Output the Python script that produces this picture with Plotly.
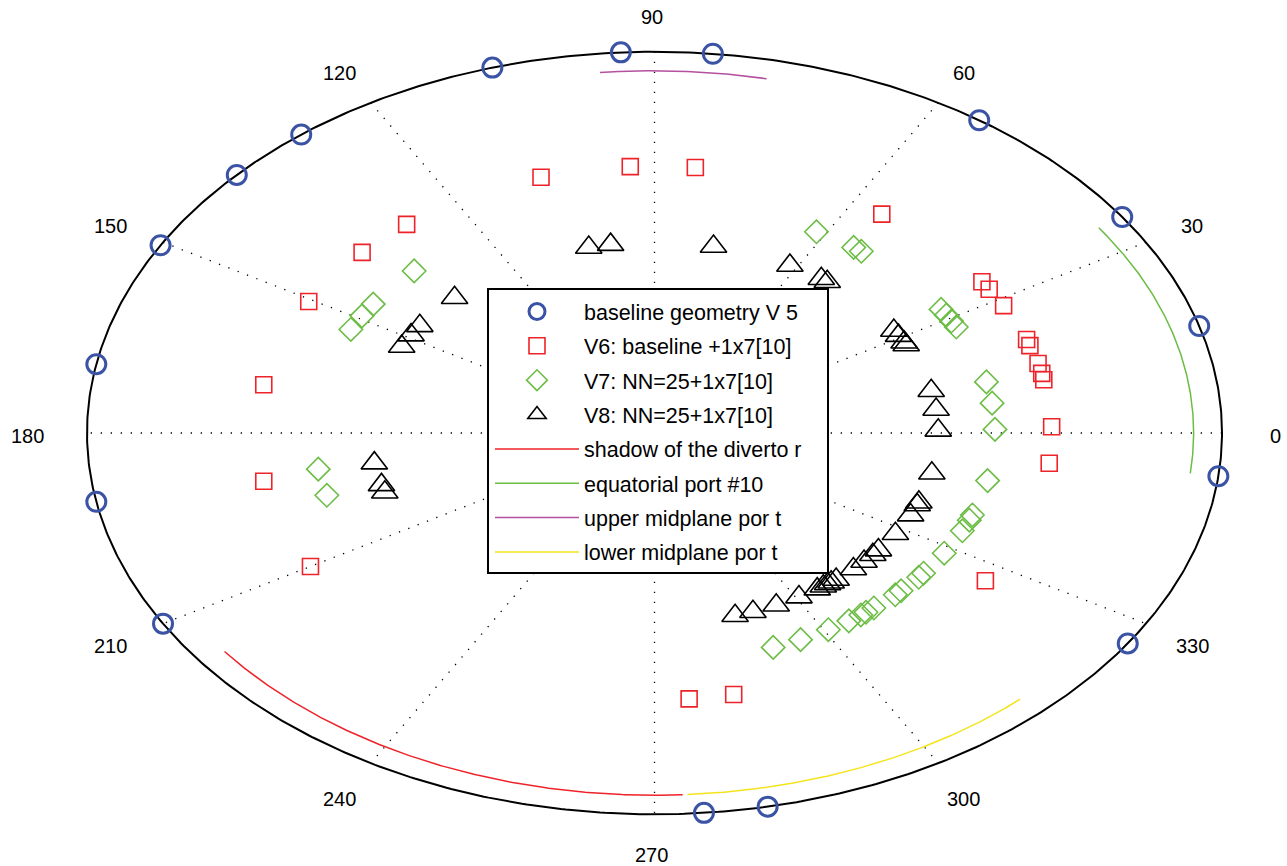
import numpy as np
import plotly.graph_objects as go

# ---------------- data (angles in degrees, radius normalised to the outer ring) -------------
v5_theta = [16.3, 34.5, 55.1, 84.1, 93.4, 106.6, 128.5, 137.4, 150.5, 169.6,
            190.4, 210.0, 275.0, 281.5, 326.5, 353.5]
v5_r = [1.0, 1.0, 1.0, 1.0, 1.0, 1.0, 1.0, 1.0, 1.0, 1.0, 1.0, 1.0, 1.0, 1.0, 1.0, 1.0]

v6_theta = [1.35, 11.5, 12.9, 15.1, 19.1, 20.5, 28.5, 32.6, 34.5, 55.1, 84.1, 93.5,
            106.6, 128.6, 137.4, 150.5, 169.6, 190.4, 210.0, 275.0, 281.5, 326.4, 353.5]
v6_r = [0.70, 0.70, 0.70, 0.70, 0.70, 0.70, 0.70, 0.70, 0.70, 0.70, 0.70, 0.70,
        0.70, 0.70, 0.70, 0.70, 0.70, 0.70, 0.70, 0.70, 0.70, 0.70, 0.70]

v7_theta = [0.9, 7.5, 12.9, 27.6, 29.3, 31.0, 32.7, 52.6, 54.2, 61.6, 134.9, 145.7,
            149.2, 153.1, 189.1, 195.8, 290.4, 295.4, 300.7, 304.8, 307.3, 308.4,
            310.1, 315.0, 316.4, 320.9, 322.2, 328.3, 334.7, 337.6, 339.0, 348.0]
v7_r = [0.60, 0.60, 0.60, 0.60, 0.60, 0.60, 0.60, 0.60, 0.60, 0.60, 0.60, 0.60,
        0.60, 0.60, 0.60, 0.60, 0.60, 0.60, 0.60, 0.60, 0.60, 0.60, 0.60, 0.60,
        0.60, 0.60, 0.60, 0.60, 0.60, 0.60, 0.60, 0.60]

v8_theta = [0.8, 7.1, 12.8, 27.5, 28.4, 30.7, 32.5, 52.5, 54.0, 61.5, 78.0, 98.9,
            103.4, 134.8, 145.8, 149.1, 153.0, 189.1, 195.8, 198.1, 286.5, 290.3,
            295.4, 300.6, 305.0, 306.5, 307.6, 308.5, 309.8, 314.5, 317.6, 320.3,
            322.1, 328.1, 334.5, 337.8, 338.7, 347.8]
v8_r = [0.50, 0.50, 0.50, 0.50, 0.50, 0.50, 0.50, 0.50, 0.50, 0.50, 0.50, 0.50,
        0.50, 0.50, 0.50, 0.50, 0.50, 0.50, 0.50, 0.50, 0.50, 0.50, 0.50, 0.50,
        0.50, 0.50, 0.50, 0.50, 0.50, 0.50, 0.50, 0.50, 0.50, 0.50, 0.50, 0.50,
        0.50, 0.50]

arc_names = ["shadow of the diverto r", "equatorial port #10",
             "upper midplane por t", "lower midplane por t"]
arc_start = [217.1, -6.4, 78.0, 273.5]
arc_end = [273.0, 34.5, 95.8, 312.7]
arc_r = [0.95, 0.95, 0.95, 0.95]

spoke_angles = [0, 30, 60, 90, 120, 150]
label_angles = [0, 30, 60, 90, 120, 150, 180, 210, 240, 270, 300, 330]
label_text = ["0", "30", "60", "90", "120", "150", "180", "210", "240", "270", "300", "330"]

# ---------------- styling ----------------
FONT = "Liberation Sans, Arial, Helvetica, sans-serif"
C_BLUE = "#3A53A4"
C_RED = "#EE2329"
C_GREEN = "#6CBD45"
C_PURPLE = "#B4509E"
C_YELLOW = "#F4E41C"
W, H = 1287, 866


def pol2cart(theta_deg, r):
    t = np.deg2rad(np.asarray(theta_deg, dtype=float))
    r = np.asarray(r, dtype=float)
    return r * np.cos(t), r * np.sin(t)


fig = go.Figure()

# spokes (dotted)
sx, sy = [], []
for a in spoke_angles:
    x, y = pol2cart([a, a + 180], [1.0, 1.0])
    sx += [x[0], x[1], None]
    sy += [y[0], y[1], None]
fig.add_trace(go.Scatter(x=sx, y=sy, mode="lines", showlegend=False, hoverinfo="skip",
                         line=dict(color="black", width=1.3, dash="1.3px,8.7px")))

# outer ring
ring_t = np.linspace(0, 360, 721)
rx, ry = pol2cart(ring_t, np.ones_like(ring_t))
fig.add_trace(go.Scatter(x=rx, y=ry, mode="lines", showlegend=False, hoverinfo="skip",
                         line=dict(color="black", width=2)))

series = [
    ("baseline geometry V 5", v5_theta, v5_r, "circle-open", 19, C_BLUE, 3),
    ("V6: baseline +1x7[10]", v6_theta, v6_r, "square-open", 16, C_RED, 1.6),
    ("V7: NN=25+1x7[10]", v7_theta, v7_r, "diamond-open", 18, C_GREEN, 1.6),
    ("V8: NN=25+1x7[10]", v8_theta, v8_r, "triangle-up-open", 23, "black", 1.6),
]
for i, (name, th, rr, sym, size, col, lw) in enumerate(series):
    x, y = pol2cart(th, rr)
    fig.add_trace(go.Scatter(x=x, y=y, mode="markers", name=name, legendgroup=f"g{i}",
                             marker=dict(symbol=sym, size=size, color=col,
                                         line=dict(color=col, width=lw))))

arc_colors = [C_RED, C_GREEN, C_PURPLE, C_YELLOW]
for i, (name, a0, a1, r0, col) in enumerate(zip(arc_names, arc_start, arc_end, arc_r, arc_colors)):
    t = np.linspace(a0, a1, 200)
    x, y = pol2cart(t, np.full_like(t, r0))
    fig.add_trace(go.Scatter(x=x, y=y, mode="lines", name=name, legendgroup=f"a{i}",
                             line=dict(color=col, width=1.5)))

# angle labels
for a, txt in zip(label_angles, label_text):
    x, y = pol2cart([a], [1.1])
    fig.add_annotation(x=x[0], y=y[0], text=txt, showarrow=False, xshift=-3, yshift=-3,
                       font=dict(size=20, color="black", family=FONT))

# legend frame (white box with black border, drawn above the data, below the legend)
fig.add_shape(type="rect", xref="paper", yref="paper",
              x0=488 / W, x1=828 / W, y0=1 - 573 / H, y1=1 - 289 / H,
              fillcolor="white", line=dict(color="black", width=2), layer="above")

fig.update_layout(
    width=W, height=H,
    margin=dict(l=0, r=0, t=0, b=0),
    paper_bgcolor="white", plot_bgcolor="white",
    xaxis=dict(range=[-1.1533, 1.1145], visible=False, fixedrange=True),
    yaxis=dict(range=[-1.1356, 1.1356], visible=False, fixedrange=True),
    font=dict(family=FONT, color="black"),
    legend=dict(x=490 / W, y=1 - 291 / H, xanchor="left", yanchor="top",
                bgcolor="rgba(0,0,0,0)", borderwidth=0,
                font=dict(size=21.5, family=FONT, color="black"),
                itemwidth=84, tracegroupgap=3.4, traceorder="grouped"),
)

fig.write_html("out.html")
